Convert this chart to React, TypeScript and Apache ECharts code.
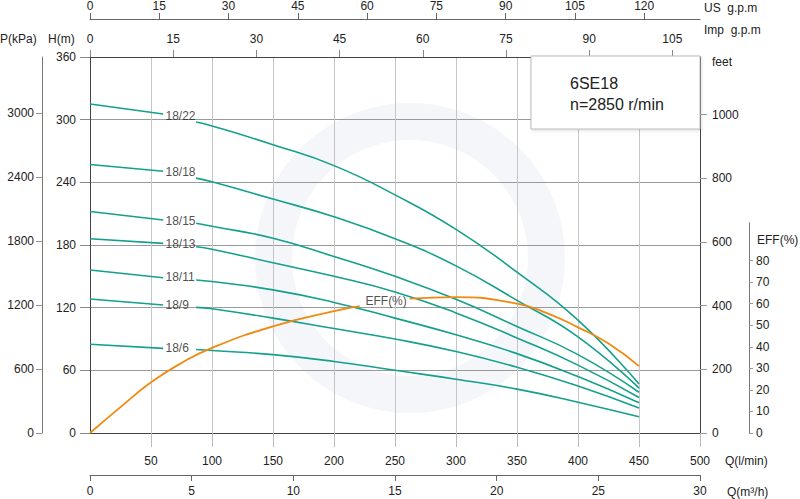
import React, { useEffect, useRef } from "react";
import * as echarts from "echarts";

// Flow points (l/min) at which the head curves were read; the gap between index 1 and 2 holds the curve label
const FLOW_Q = [0, 60, 87, 100, 150, 200, 250, 300, 350, 400, 450];
const CURVE_NAMES = ["18/22", "18/18", "18/15", "18/13", "18/11", "18/9", "18/6"];
const H_18_22 = [315, 305.4, 297.8, 294, 276, 256, 228, 195, 154, 108, 47];
const H_18_18 = [257, 250.6, 244, 240.5, 224, 207, 186, 160, 127, 92, 43];
const H_18_15 = [212, 204, 200.8, 198, 186.5, 169, 150, 128, 102, 75, 39];
const H_18_13 = [186, 181.6, 178.4, 176, 163, 150, 135, 115, 91, 65, 34];
const H_18_11 = [156, 148.7, 146.5, 145, 137, 125, 110, 94, 76, 54, 29];
const H_18_9 = [128.3, 122.6, 120.3, 119, 110, 100, 90, 78, 63, 45, 24];
const H_18_6 = [85, 81, 80, 79, 75, 68.5, 60, 51.5, 42, 29.5, 15.5];
const HEADS = [H_18_22, H_18_18, H_18_15, H_18_13, H_18_11, H_18_9, H_18_6];
const LABEL_Q = [62.3, 62.3, 62.3, 62.3, 62.3, 62.3, 62.3];
const LABEL_H = [303.5, 249.2, 202.3, 180.7, 148.7, 121.6, 80.7];

// Efficiency curve (%), gap between 221 and 262 holds the "EFF(%)" label
const EFF_Q_A = [0, 25, 50, 75, 100, 150, 200, 221];
const EFF_A = [0, 12, 23.5, 32.5, 39.5, 49.5, 56.5, 58.8];
const EFF_Q_B = [262, 300, 350, 375, 400, 425, 450];
const EFF_B = [62.3, 63, 60, 55.5, 49, 41.5, 31];
const EFF_LABEL = [226.2, 60.8];

// Axis ticks
const Q_LMIN_TICKS = [50, 100, 150, 200, 250, 300, 350, 400, 450, 500];
const Q_M3H_TICKS = [0, 5, 10, 15, 20, 25, 30];
const US_GPM_TICKS = [0, 15, 30, 45, 60, 75, 90, 105, 120];
const IMP_GPM_TICKS = [0, 15, 30, 45, 60, 75, 90, 105];
const H_TICKS = [0, 60, 120, 180, 240, 300, 360];
const P_TICKS = [0, 600, 1200, 1800, 2400, 3000];
const FEET_TICKS = [0, 200, 400, 600, 800, 1000];
const EFF_TICKS = [0, 10, 20, 30, 40, 50, 60, 70, 80];

const Q_MAX = 500;
const H_MAX = 360;
const FONT = "'Liberation Sans', Arial, sans-serif";
const TEAL = "#14a08c";
const ORANGE = "#f08a10";
const TXT = "#222";

export default function App() {
  const ref = useRef<HTMLDivElement>(null);
  useEffect(() => {
    if (!ref.current) return;
    const chart = echarts.init(ref.current, undefined, { renderer: "svg" });
    const lbl = (extra: any = {}) => ({
      color: TXT, fontSize: 12, fontFamily: FONT,
      formatter: (v: number) => String(Math.round(v)), ...extra,
    });

    const series: any[] = [];
    HEADS.forEach((h, i) => {
      const pts = FLOW_Q.map((q, k) => [q, h[k]]);
      series.push({
        type: "line", name: CURVE_NAMES[i], xAxisIndex: 0, yAxisIndex: 0,
        data: pts.slice(0, 2), symbol: "none",
        lineStyle: { color: TEAL, width: 1.6 }, z: 3,
      });
      series.push({
        type: "line", name: CURVE_NAMES[i] + "b", xAxisIndex: 0, yAxisIndex: 0,
        data: pts.slice(2), symbol: "none", smooth: 0.5,
        lineStyle: { color: TEAL, width: 1.6 }, z: 3,
      });
    });
    series.push({
      type: "scatter", xAxisIndex: 0, yAxisIndex: 0, symbolSize: 1,
      itemStyle: { color: "rgba(0,0,0,0)" },
      data: CURVE_NAMES.map((n, i) => [LABEL_Q[i], LABEL_H[i], n]),
      label: {
        show: true, position: [0, 0], align: "left", verticalAlign: "middle",
        color: TXT, fontSize: 12, fontFamily: FONT,
        formatter: (p: any) => p.data[2],
      },
      z: 4,
    });
    series.push({
      type: "line", xAxisIndex: 4, yAxisIndex: 3, symbol: "none", smooth: 0.5,
      data: EFF_Q_A.map((q, k) => [q, EFF_A[k]]),
      lineStyle: { color: ORANGE, width: 1.8 }, z: 5,
    });
    series.push({
      type: "line", xAxisIndex: 4, yAxisIndex: 3, symbol: "none", smooth: 0.5,
      data: EFF_Q_B.map((q, k) => [q, EFF_B[k]]),
      lineStyle: { color: ORANGE, width: 1.8 }, z: 5,
    });
    series.push({
      type: "scatter", xAxisIndex: 4, yAxisIndex: 3, symbolSize: 1,
      itemStyle: { color: "rgba(0,0,0,0)" },
      data: [[EFF_LABEL[0], EFF_LABEL[1], "EFF(%)"]],
      label: {
        show: true, position: [0, 0], align: "left", verticalAlign: "middle",
        color: TXT, fontSize: 12, fontFamily: FONT,
        formatter: (p: any) => p.data[2],
      },
      z: 6,
    });

    const option: any = {
      animation: false,
      backgroundColor: "#fff",
      textStyle: { fontFamily: FONT },
      grid: [
        { left: 90, right: 100, top: 57, bottom: 66 },
        { left: 90, right: 100, top: 222.8, bottom: 66 },
      ],
      xAxis: [
        {
          gridIndex: 0, type: "value", min: 0, max: Q_MAX, interval: 50, position: "bottom",
          axisLine: { show: true, onZero: false, lineStyle: { color: "#444" } },
          axisTick: { show: true, length: 14, lineStyle: { color: "#bbb" }, customValues: Q_LMIN_TICKS },
          axisLabel: { margin: 22, customValues: Q_LMIN_TICKS, ...lbl() },
          splitLine: { show: true, lineStyle: { color: "#c6c6c6" } },
        },
        {
          gridIndex: 0, type: "value", min: 0, max: 30, interval: 5, position: "bottom", offset: 42,
          axisLine: { show: true, onZero: false, lineStyle: { color: "#666" } },
          axisTick: { show: true, length: 6, lineStyle: { color: "#666" }, customValues: Q_M3H_TICKS },
          axisLabel: { margin: 10, customValues: Q_M3H_TICKS, ...lbl() },
          splitLine: { show: false },
        },
        {
          gridIndex: 0, type: "value", min: 0, max: Q_MAX / 4.54609, interval: 15, position: "top",
          axisLine: { show: true, onZero: false, lineStyle: { color: "#444" } },
          axisTick: { show: true, length: 7, lineStyle: { color: "#888" }, customValues: IMP_GPM_TICKS },
          axisLabel: { margin: 12, customValues: IMP_GPM_TICKS, ...lbl() },
          splitLine: { show: false },
        },
        {
          gridIndex: 0, type: "value", min: 0, max: Q_MAX / 3.78541, interval: 15, position: "top", offset: 38,
          axisLine: { show: true, onZero: false, lineStyle: { color: "#666" } },
          axisTick: { show: true, length: 6, lineStyle: { color: "#666" }, customValues: US_GPM_TICKS },
          axisLabel: { margin: 7, customValues: US_GPM_TICKS, ...lbl() },
          splitLine: { show: false },
        },
        { gridIndex: 1, type: "value", min: 0, max: Q_MAX, show: false },
      ],
      yAxis: [
        {
          gridIndex: 0, type: "value", min: 0, max: H_MAX, interval: 60, position: "left",
          axisLine: { show: true, onZero: false, lineStyle: { color: "#444" } },
          axisTick: { show: true, length: 10, lineStyle: { color: "#888" }, customValues: H_TICKS },
          axisLabel: { margin: 14, customValues: H_TICKS, ...lbl() },
          splitLine: { show: true, lineStyle: { color: "#9a9a9a" } },
        },
        {
          gridIndex: 0, type: "value", min: 0, max: H_MAX * 9.80665, interval: 600, position: "left", offset: 48,
          axisLine: { show: true, onZero: false, lineStyle: { color: "#777" } },
          axisTick: { show: true, length: 6, lineStyle: { color: "#999" }, customValues: P_TICKS },
          axisLabel: { margin: 8, customValues: P_TICKS, ...lbl() },
          splitLine: { show: false },
        },
        {
          gridIndex: 0, type: "value", min: 0, max: H_MAX / 0.3048, interval: 200, position: "right",
          axisLine: { show: true, onZero: false, lineStyle: { color: "#444" } },
          axisTick: { show: true, length: 7, lineStyle: { color: "#999" }, customValues: FEET_TICKS },
          axisLabel: { margin: 12, customValues: FEET_TICKS, ...lbl() },
          splitLine: { show: false },
        },
        {
          gridIndex: 1, type: "value", min: 0, max: 97.5, interval: 10, position: "right", offset: 49,
          axisLine: { show: true, onZero: false, lineStyle: { color: "#777" } },
          axisTick: { show: true, length: 4, lineStyle: { color: "#999" }, customValues: EFF_TICKS },
          axisLabel: { margin: 7, customValues: EFF_TICKS, ...lbl() },
          splitLine: { show: false },
        },
      ],
      graphic: [
        {
          type: "ring", z: 0, silent: true,
          shape: { cx: 410, cy: 258, r: 155, r0: 118 },
          style: { fill: "rgba(205,214,228,0.22)" },
        },
        {
          type: "rect", z: 100, shape: { x: 531, y: 56, width: 169, height: 73 },
          style: { fill: "#fff", stroke: "#bbb", lineWidth: 1, shadowBlur: 3, shadowColor: "rgba(0,0,0,0.15)", shadowOffsetX: 1, shadowOffsetY: 1 },
        },
        { type: "text", z: 101, x: 570, y: 83, style: { text: "6SE18", fill: TXT, font: `16px ${FONT}`, verticalAlign: "middle" } },
        { type: "text", z: 101, x: 570, y: 104, style: { text: "n=2850 r/min", fill: TXT, font: `16px ${FONT}`, verticalAlign: "middle" } },
        { type: "text", z: 101, x: 0, y: 39, style: { text: "P(kPa)", fill: TXT, font: `12px ${FONT}`, verticalAlign: "middle" } },
        { type: "text", z: 101, x: 48, y: 39, style: { text: "H(m)", fill: TXT, font: `12px ${FONT}`, verticalAlign: "middle" } },
        { type: "text", z: 101, x: 704, y: 8, style: { text: "US  g.p.m", fill: TXT, font: `12px ${FONT}`, verticalAlign: "middle" } },
        { type: "text", z: 101, x: 704, y: 30, style: { text: "Imp  g.p.m", fill: TXT, font: `12px ${FONT}`, verticalAlign: "middle" } },
        { type: "text", z: 101, x: 712, y: 62, style: { text: "feet", fill: TXT, font: `12px ${FONT}`, verticalAlign: "middle" } },
        { type: "text", z: 101, x: 757, y: 240, style: { text: "EFF(%)", fill: TXT, font: `12px ${FONT}`, verticalAlign: "middle" } },
        { type: "text", z: 101, x: 725, y: 461, style: { text: "Q(l/min)", fill: TXT, font: `12px ${FONT}`, verticalAlign: "middle" } },
        { type: "text", z: 101, x: 727, y: 492, style: { text: "Q(m³/h)", fill: TXT, font: `12px ${FONT}`, verticalAlign: "middle" } },
      ],
      series,
    };
    chart.setOption(option);
    return () => chart.dispose();
  }, []);
  return (
    <div
      ref={ref}
      style={{ position: "fixed", left: 0, top: 0, width: 800, height: 499, background: "#fff" }}
    />
  );
}
